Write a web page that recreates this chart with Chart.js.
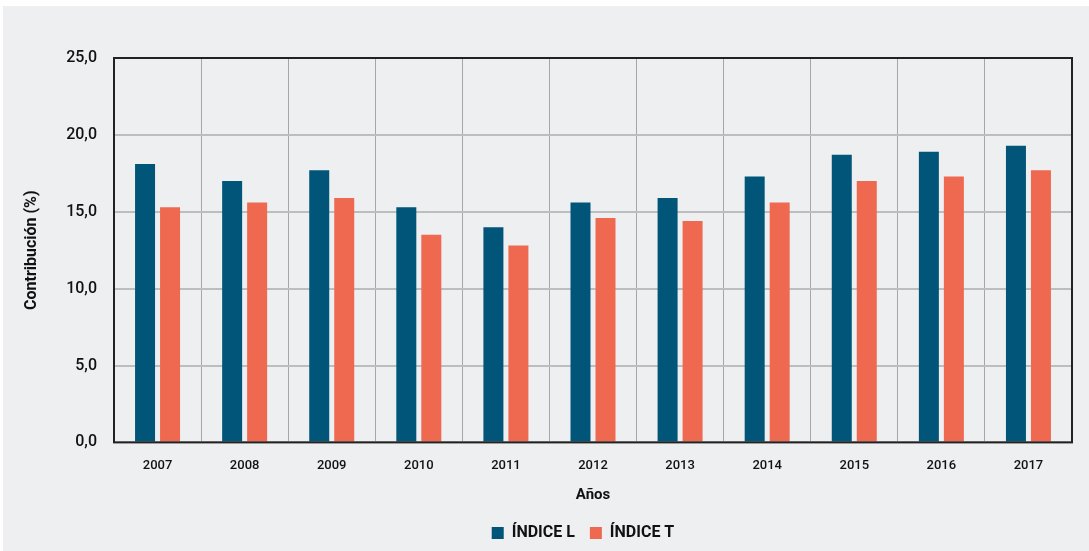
<!DOCTYPE html>
<html>
<head>
<meta charset="utf-8">
<script src="https://cdn.jsdelivr.net/npm/chart.js@4"></script>
<style>
  html, body { margin: 0; padding: 0; background: #ffffff; }
  #wrap {
    position: absolute; left: 3px; top: 6px;
    width: 1086px; height: 545px; background: #eeeff1;
  }
</style>
</head>
<body>
<div id="wrap"><canvas id="chart" width="1086" height="545"></canvas></div>
<script>
/* ---------- data ---------- */
const years = ["2007", "2008", "2009", "2010", "2011", "2012", "2013", "2014", "2015", "2016", "2017"];
const indiceL = [18.1, 17.0, 17.7, 15.3, 14.0, 15.6, 15.9, 17.3, 18.7, 18.9, 19.3];
const indiceT = [15.3, 15.6, 15.9, 13.5, 12.8, 14.6, 14.4, 15.6, 17.0, 17.3, 17.7];
const yTicks = [0, 5, 10, 15, 20, 25];

const FONT = "Roboto, 'Liberation Sans', sans-serif";
const BLUE = "#005579";
const SALMON = "#ee6950";

// marco completo del área de trazado + leyenda algo desplazada a la derecha
const frame = {
  id: "frame",
  afterLayout(chart) {
    const l = chart.legend;
    const shift = 580 - (l.left + l.right) / 2;
    l.left += shift;
    l.right += shift;
  },
  afterDatasetsDraw(chart) {
    const { ctx, chartArea: a } = chart;
    ctx.save();
    ctx.strokeStyle = "#222222";
    ctx.lineWidth = 2;
    ctx.strokeRect(a.left, a.top, a.right - a.left, a.bottom - a.top);
    ctx.restore();
  },
};

new Chart(document.getElementById("chart"), {
  type: "bar",
  data: {
    labels: years,
    datasets: [
      { label: "ÍNDICE L", data: indiceL, backgroundColor: BLUE },
      { label: "ÍNDICE T", data: indiceT, backgroundColor: SALMON },
    ],
  },
  options: {
    responsive: false,
    animation: false,
    layout: { padding: { left: 0, right: 17, top: 52, bottom: 0 } },
    datasets: { bar: { categoryPercentage: 0.574, barPercentage: 0.8 } },
    plugins: {
      legend: {
        position: "bottom",
        labels: {
          boxWidth: 12,
          boxHeight: 12,
          padding: 15,
          color: "#111111",
          font: { family: FONT, size: 16, weight: "bold" },
        },
      },
      tooltip: { enabled: false },
    },
    scales: {
      x: {
        grid: { color: "#a6a6a6", lineWidth: 1, drawTicks: false, offset: true },
        border: { display: false },
        ticks: { padding: 16, color: "#111111", font: { family: FONT, size: 13, weight: "500" } },
        title: {
          display: true,
          text: "Años",
          color: "#111111",
          padding: { top: -4, bottom: 6 },
          font: { family: FONT, size: 15, weight: "bold" },
        },
      },
      y: {
        min: 0,
        max: 25,
        afterBuildTicks: (s) => { s.ticks = yTicks.map((v) => ({ value: v })); },
        afterFit: (s) => { s.width = 111; },
        grid: { color: "#bdbdbd", lineWidth: 2, drawTicks: false },
        border: { display: false },
        ticks: {
          padding: 17,
          color: "#111111",
          font: { family: FONT, size: 16, weight: "500" },
          callback: (v) => v.toFixed(1).replace(".", ","),
        },
        title: {
          display: true,
          text: "Contribución (%)",
          color: "#111111",
          padding: { top: 19, bottom: 0 },
          font: { family: FONT, size: 16, weight: "bold" },
        },
      },
    },
  },
  plugins: [frame],
});
</script>
</body>
</html>
